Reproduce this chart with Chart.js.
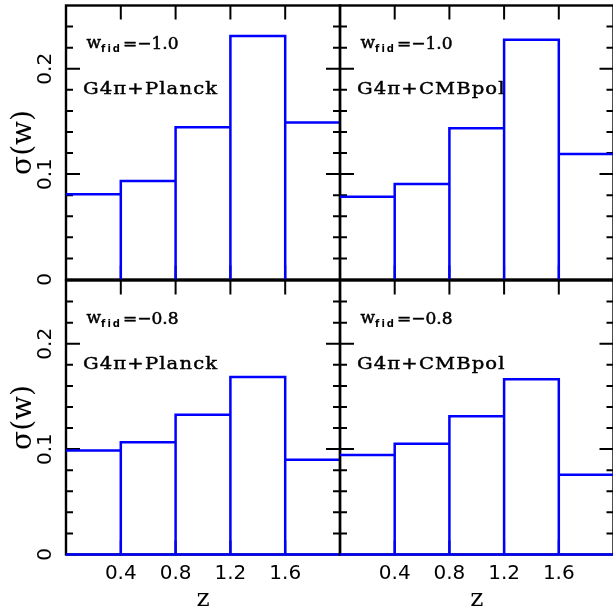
<!DOCTYPE html>
<html>
<head>
<meta charset="utf-8">
<script src="https://cdn.jsdelivr.net/npm/chart.js@4.4.1/dist/chart.umd.min.js"></script>
<style>
html, body { margin:0; padding:0; background:#fff; overflow:hidden; width:613px; height:614px; }
#wrap { position:relative; width:613px; height:614px; overflow:hidden; background:#fff; }
canvas { position:absolute; left:0; top:0; }
</style>
</head>
<body>
<div id="wrap">
  <canvas id="cTL" width="640" height="614" style="width:640px;height:614px"></canvas>
  <canvas id="cTR" width="640" height="614" style="width:640px;height:614px"></canvas>
  <canvas id="cBL" width="640" height="614" style="width:640px;height:614px"></canvas>
  <canvas id="cBR" width="640" height="614" style="width:640px;height:614px"></canvas>
</div>
<script>
// ---- data ----
const binEdges = [0, 0.4, 0.8, 1.2, 1.6, 2.0];
const sigmaPlanckW10 = [0.081, 0.0935, 0.1445, 0.231, 0.149];
const sigmaCMBpolW10 = [0.0786, 0.0907, 0.1436, 0.2274, 0.119];
const sigmaPlanckW08 = [0.0988, 0.1066, 0.1326, 0.1684, 0.0899];
const sigmaCMBpolW08 = [0.0943, 0.105, 0.1313, 0.1662, 0.0756];
const xTickValues = [0.4, 0.8, 1.2, 1.6];
const yTickLabels = [0, 0.1, 0.2];
const wfidLabels = ['\u22121.0', '\u22120.8'];
const probeLabels = ['G4\u03c0+Planck', 'G4\u03c0+CMBpol'];
const xTitle = 'z';
const yTitle = '\u03c3(w)';

const BLUE = '#0000ff';

function histPoints(vals) {
  const pts = [];
  for (let i = 0; i < vals.length; i++) {
    pts.push({x: binEdges[i], y: vals[i]});
    pts.push({x: binEdges[i + 1], y: vals[i]});
    if (i < vals.length - 1) pts.push({x: binEdges[i + 1], y: 0});
  }
  return pts;
}

function boldText(ctx, text, x, y) {
  ctx.fillText(text, x, y);
  ctx.strokeText(text, x, y);
}

const framePlugin = {
  id: 'frameTicks',
  beforeDatasetsDraw(chart) {
    const {ctx, chartArea: a} = chart;
    const xs = chart.scales.x, ys = chart.scales.y;
    ctx.save();
    ctx.strokeStyle = '#000';
    ctx.lineWidth = 2.4;
    ctx.lineCap = 'butt';
    ctx.strokeRect(a.left, a.top, a.right - a.left, a.bottom - a.top);
    ctx.lineWidth = 2;
    ctx.beginPath();
    ys.ticks.forEach(t => {
      const v = t.value;
      if (v <= 0 || v >= ys.max) return;
      const major = Math.abs(v * 10 - Math.round(v * 10)) < 1e-6;
      const len = major ? 14 : 7;
      const py = ys.getPixelForValue(v);
      ctx.moveTo(a.left, py); ctx.lineTo(a.left + len, py);
      ctx.moveTo(a.right, py); ctx.lineTo(a.right - len, py);
    });
    xTickValues.forEach(v => {
      const px = xs.getPixelForValue(v);
      ctx.moveTo(px, a.top); ctx.lineTo(px, a.top + 14);
      ctx.moveTo(px, a.bottom); ctx.lineTo(px, a.bottom - 14);
    });
    ctx.stroke();
    ctx.restore();
  },
  afterDraw(chart) {
    const o = chart.options.plugins.panelText;
    if (!o) return;
    const {ctx, chartArea: a} = chart;
    const ys = chart.scales.y;
    ctx.save();
    ctx.fillStyle = '#000';
    ctx.strokeStyle = '#000';
    ctx.lineWidth = 0.5;
    ctx.textAlign = 'left';
    ctx.textBaseline = 'alphabetic';
    // w_fid = value
    let x = a.left + 20.5;
    const yb = a.top + 42.5;
    ctx.font = '17px "DejaVu Serif"';
    boldText(ctx, 'w', x, yb);
    x += ctx.measureText('w').width;
    ctx.font = 'bold 10px "DejaVu Sans"';
    ctx.letterSpacing = '2px';
    ctx.fillText('fid', x, yb + 4);
    x += ctx.measureText('fid').width + 1;
    ctx.font = '17px "DejaVu Serif"';
    ctx.letterSpacing = '0px';
    boldText(ctx, '=' + o.wfid, x, yb + 1);
    // probe combination
    ctx.save();
    ctx.translate(a.left + 17, a.top + 88.5);
    ctx.scale(1.15, 1);
    ctx.font = '17px "DejaVu Serif"';
    ctx.letterSpacing = '1px';
    ctx.lineWidth = 0.45;
    boldText(ctx, o.probe, 0, 0);
    ctx.restore();
    ctx.letterSpacing = '0px';
    // rotated y tick labels
    if (o.yLabels) {
      ctx.font = '20px "DejaVu Sans"';
      ctx.textAlign = 'center';
      ctx.textBaseline = 'middle';
      yTickLabels.forEach(v => {
        const py = ys.getPixelForValue(v);
        ctx.save();
        ctx.translate(46, py);
        ctx.rotate(-Math.PI / 2);
        ctx.fillText(String(v), 0, 0);
        ctx.restore();
      });
    }
    ctx.restore();
  }
};

function makePanel(id, vals, opts) {
  const datasets = [{
    data: histPoints(vals),
    borderColor: BLUE,
    borderWidth: 2.5,
    pointRadius: 0,
    tension: 0,
    fill: false,
    clip: false,
    borderJoinStyle: 'miter'
  }];
  if (opts.bottom) {
    datasets.push({
      data: [{x: binEdges[0], y: 0}, {x: binEdges[binEdges.length - 1], y: 0}],
      borderColor: BLUE, borderWidth: 2.5, pointRadius: 0, fill: false, clip: false
    });
  }
  return new Chart(document.getElementById(id), {
    type: 'line',
    data: {datasets},
    plugins: [framePlugin],
    options: {
      responsive: false,
      devicePixelRatio: 1,
      animation: false,
      events: [],
      layout: {padding: opts.padding},
      plugins: {
        legend: {display: false},
        tooltip: {enabled: false},
        panelText: {wfid: opts.wfid, probe: opts.probe, yLabels: opts.left}
      },
      scales: {
        x: {
          type: 'linear',
          min: 0, max: 2,
          display: !!opts.bottom,
          grid: {display: false, drawTicks: false},
          border: {display: false},
          ticks: {
            stepSize: 0.4, autoSkip: false, maxRotation: 0, minRotation: 0,
            padding: 7, color: '#000',
            font: {family: 'DejaVu Sans', size: 20},
            callback: v => xTickValues.some(t => Math.abs(t - v) < 1e-6) ? Number(v).toFixed(1) : ''
          },
          title: {display: true, text: xTitle, color: '#000', font: {family: 'DejaVu Serif', size: 25}, padding: {top: 0, bottom: 0}},
          afterFit: s => { if (opts.bottom) s.height = 59.5; else s.height = 0; }
        },
        y: {
          type: 'linear',
          min: 0, max: 0.26,
          display: !!opts.left,
          grid: {display: false, drawTicks: false},
          border: {display: false},
          ticks: {stepSize: 0.02, autoSkip: false, display: false},
          title: {display: true, text: yTitle, color: '#000', font: {family: 'DejaVu Serif', size: 28}, padding: {top: 7, bottom: 0}},
          afterFit: s => { if (opts.left) s.width = 66; else s.width = 0; }
        }
      }
    }
  });
}

const W = 640, H = 614;
makePanel('cTL', sigmaPlanckW10, {left: true, bottom: false, wfid: wfidLabels[0], probe: probeLabels[0],
  padding: {left: 0, top: 5.5, right: W - 340, bottom: H - 279.5}});
makePanel('cTR', sigmaCMBpolW10, {left: false, bottom: false, wfid: wfidLabels[0], probe: probeLabels[1],
  padding: {left: 340, top: 5.5, right: W - 613.5, bottom: H - 279.5}});
makePanel('cBL', sigmaPlanckW08, {left: true, bottom: true, wfid: wfidLabels[1], probe: probeLabels[0],
  padding: {left: 0, top: 280.5, right: W - 340, bottom: 0}});
makePanel('cBR', sigmaCMBpolW08, {left: false, bottom: true, wfid: wfidLabels[1], probe: probeLabels[1],
  padding: {left: 340, top: 280.5, right: W - 613.5, bottom: 0}});
</script>
</body>
</html>
